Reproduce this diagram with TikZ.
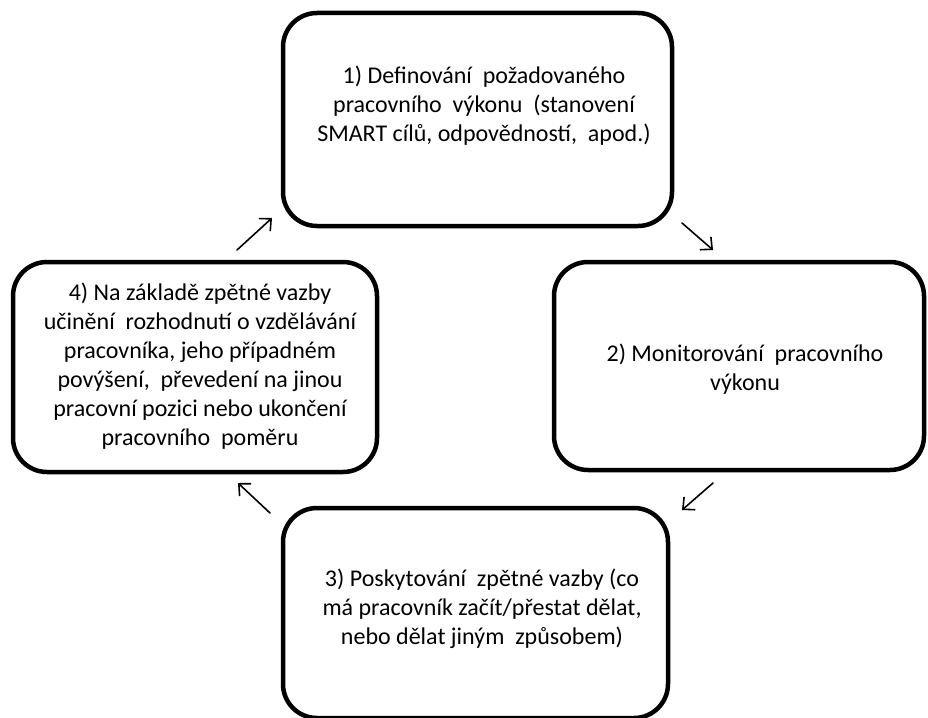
\documentclass[tikz,border=0pt]{standalone}
\usepackage{fontspec}
\setmainfont{Carlito}
\usetikzlibrary{arrows.meta}
\begin{document}
\begin{tikzpicture}[x=1pt,y=-1pt,
  stagebox/.style={draw=black, line width=4.5pt, rounded corners=34pt,
                   rectangle, inner sep=0pt},
  stagetext/.style={align=center, inner sep=0pt,
                    font=\fontsize{24}{29}\selectfont},
  cyclearrow/.style={line width=1.6pt, line cap=round,
                     -{Straight Barb[length=9pt,width=17pt,line width=1.6pt]}}]
\useasboundingbox (0,0) rectangle (928,717);

% the four stages of the cycle
\node[stagebox, minimum width=389pt, minimum height=213pt] (b1) at (477.5,119.5) {};
\node[stagebox, minimum width=370pt, minimum height=208pt] (b2) at (739,366) {};
\node[stagebox, minimum width=385pt, minimum height=210pt] (b3) at (475.5,613) {};
\node[stagebox, minimum width=364pt, minimum height=210pt] (b4) at (195,367) {};

\node[stagetext] (t1) at (484,106)
  {1) Definování~ požadovaného\\
   pracovního~ výkonu~ (stanovení\\
   SMART cílů, odpovědností,~ apod.)};
\node[stagetext] (t2) at (745,369)
  {2) Monitorování~ pracovního\\ výkonu};
\node[stagetext] (t3) at (482,609)
  {3) Poskytování~ zpětné vazby (co\\
   má pracovník začít/přestat dělat,\\
   nebo dělat jiným~ způsobem)};
\node[stagetext] (t4) at (200,366)
  {4) Na základě zpětné vazby\\
   učinění~ rozhodnutí o vzdělávání\\
   pracovníka, jeho případném\\
   povýšení,~ převedení na jinou\\
   pracovní pozici nebo ukončení\\
   pracovního~ poměru};

% arrows between the stages
\coordinate (a1s) at (237,250); \coordinate (a1e) at (272,218);
\coordinate (a2s) at (682,223); \coordinate (a2e) at (713,250);
\coordinate (a3s) at (713,483); \coordinate (a3e) at (682,510);
\coordinate (a4s) at (270,513); \coordinate (a4e) at (238,483);

\draw[cyclearrow] (a1s) -- (a1e);
\draw[cyclearrow] (a2s) -- (a2e);
\draw[cyclearrow] (a3s) -- (a3e);
\draw[cyclearrow] (a4s) -- (a4e);
\end{tikzpicture}
\end{document}
